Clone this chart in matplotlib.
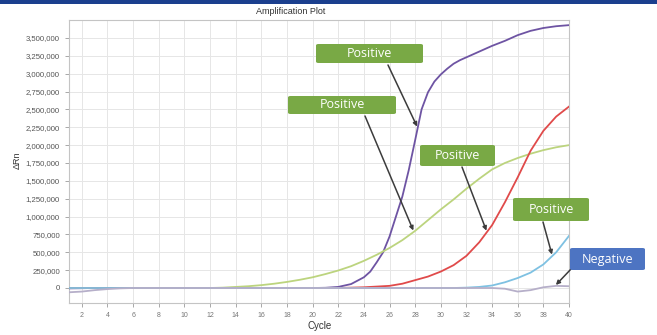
import numpy as np
import matplotlib.pyplot as plt
from matplotlib.patches import FancyBboxPatch, Rectangle
from matplotlib.ticker import FuncFormatter

W, H = 657, 335

# delta Rn per cycle, in thousands
cycles = np.arange(1, 41)
green = [0, 0, 0, 0, 0, 0, 0, 0, 0, 0, 0, 0, 5, 15, 25, 40, 60, 85, 115, 150,
         195, 245, 305, 380, 465, 560, 670, 800, 950, 1100,
         1240, 1390, 1530, 1660, 1750, 1820, 1880, 1930, 1970, 2000]
red = [0, 0, 0, 0, 0, 0, 0, 0, 0, 0, 0, 0, 0, 0, 0, 0, 0, 0, 0, 0,
       0, 0, 5, 10, 20, 30, 60, 110, 160, 230,
       320, 450, 640, 880, 1200, 1550, 1920, 2200, 2400, 2540]
cyan = [0, 0, 0, 0, 0, 0, 0, 0, 0, 0, 0, 0, 0, 0, 0, 0, 0, 0, 0, 0,
        0, 0, 0, 0, 0, 0, 0, 0, 0, 0,
        0, 5, 15, 35, 80, 140, 215, 330, 500, 730]
negative = [-60, -50, -30, -15, -5, 0, 0, 0, 0, 0, 0, 0, 0, 0, 0, 0, 0, 0, 0, 0,
            0, 0, 0, 0, 0, 0, 0, 0, 0, 0,
            0, 0, 0, 0, -10, -50, -30, 10, 30, 25]

# purple sample rises steeply, so it has extra half-cycle readings
purple_cycles = np.concatenate([np.arange(1, 24), np.arange(24, 32, 0.5), np.arange(32, 41)])
purple = [-5, -3, 0, 0, 0, 0, 0, 0, 0, 0, 0, 0, 0, 0, 0, 0, 0, 0, 0, 0,
          3, 15, 55,
          150, 230, 360, 500, 720, 1000, 1280, 1650,
          2070, 2500, 2740, 2890, 2990, 3070, 3140, 3190,
          3230, 3310, 3390, 3460, 3540, 3600, 3640, 3665, 3680]

series = {
    "purple": (purple_cycles, np.array(purple) * 1000, "#6e54a3"),
    "green": (cycles, np.array(green) * 1000, "#bcd47e"),
    "red": (cycles, np.array(red) * 1000, "#e04a4a"),
    "cyan": (cycles, np.array(cyan) * 1000, "#7ec1e2"),
    "negative": (cycles, np.array(negative) * 1000, "#b6afc9"),
}

# label text, box colour, box (left, top, right, bottom) in px, arrow start px, target series, target cycle
labels = [
    ("Positive", "#79a945", (316, 44, 423, 63), (388, 65), "purple", 28.2),
    ("Positive", "#79a945", (288, 96, 396, 114), (365, 116), "green", 27.9),
    ("Positive", "#79a945", (420, 145, 495, 166), (462, 167), "red", 33.6),
    ("Positive", "#79a945", (513, 198, 589, 221), (543, 222), "cyan", 38.7),
    ("Negative", "#4d74c2", (570, 248, 645, 270), (572, 268), "negative", 38.9),
]

plt.rcParams["font.family"] = ["Liberation Sans", "DejaVu Sans"]

fig = plt.figure(figsize=(W / 100, H / 100), dpi=100)
ax = fig.add_axes([69 / W, 1 - 303 / H, 500 / W, 283 / H])

for name, (xs, vals, color) in series.items():
    ax.plot(xs, vals, color=color, lw=1.3, zorder=3)

ax.set_xlim(1, 40)
ax.set_ylim(-210000, 3752000)
ax.set_xticks(np.arange(2, 41, 2))
ax.set_yticks(np.arange(0, 3500001, 250000))
ax.yaxis.set_major_formatter(FuncFormatter(lambda v, p: f"{v:,.0f}"))
ax.tick_params(axis="both", colors="#9a9a9a", labelcolor="#555555", length=3, width=0.6)
ax.tick_params(axis="y", labelsize=5.6)
ax.tick_params(axis="x", labelsize=5, labelcolor="#777777")
ax.grid(True, color="#e6e6e6", lw=0.7)
ax.set_axisbelow(True)
for s in ax.spines.values():
    s.set_color("#c4c4c4")
    s.set_linewidth(0.8)

fig.text(291 / W, 1 - 11 / H, "Amplification Plot", fontsize=6.5, color="#333333",
         ha="center", va="center")
fig.text(17 / W, 1 - 160 / H, "ΔRn", fontsize=6.5, color="#333333",
         rotation=90, ha="center", va="center")
fig.text(320 / W, 1 - 326 / H, "Cycle", fontsize=7, color="#333333",
         ha="center", va="center")

# header strip
fig.add_artist(Rectangle((0, 1 - 3.5 / H), 1, 3.5 / H, transform=fig.transFigure,
                         color="#1b3f8e", lw=0))

for text, fc, (l, t, r, b), (sx, sy), key, cyc in labels:
    xs, vals, _ = series[key]
    ty = np.interp(cyc, xs, vals)
    ax.annotate("", xy=(cyc, ty), xycoords="data",
                xytext=(sx, H - sy), textcoords="figure pixels",
                arrowprops=dict(arrowstyle="-|>", color="#3c3c3c", lw=1.1,
                                mutation_scale=6, shrinkA=0, shrinkB=1),
                annotation_clip=False, zorder=5)
    box = FancyBboxPatch((l / W, 1 - b / H), (r - l) / W, (b - t) / H,
                         boxstyle="round,pad=0,rounding_size=0.004",
                         transform=fig.transFigure, fc=fc, ec="none", zorder=6)
    fig.add_artist(box)
    fig.text((l + r) / 2 / W, 1 - (t + b) / 2 / H, text, fontsize=9,
             family=["Open Sans", "DejaVu Sans"], color="white",
             ha="center", va="center", zorder=7)

fig.savefig("out.png", dpi=100)
